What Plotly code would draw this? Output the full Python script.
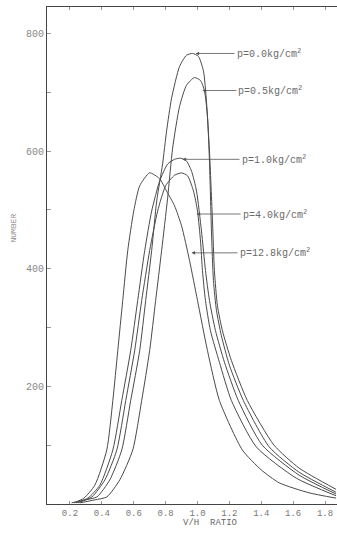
import plotly.graph_objects as go

# ---- data ----
x_p00 = [0.21, 0.294, 0.369, 0.45, 0.525, 0.581, 0.6375, 0.675, 0.7125, 0.744, 0.781, 0.806, 0.8375, 0.8875,
         0.931, 0.969, 1.006, 1.0375, 1.056, 1.075, 1.094, 1.106, 1.125, 1.156, 1.2125, 1.3125, 1.48, 1.6375, 1.869]
y_p00 = [2, 7, 12, 41, 92, 176, 261, 346, 431, 515, 578, 634, 690, 744,
         763, 766, 761, 736, 685, 600, 481, 397, 337, 295, 244, 176, 100, 61, 25]

x_p05 = [0.2625, 0.356, 0.431, 0.5125, 0.594, 0.65, 0.7, 0.7375, 0.775, 0.8125, 0.844, 0.8875, 0.931, 0.981,
         1.019, 1.044, 1.0625, 1.075, 1.0875, 1.1, 1.119, 1.15, 1.2, 1.2875, 1.45, 1.6375, 1.869]
y_p05 = [2, 7, 12, 41, 92, 176, 261, 346, 431, 520, 605, 676, 712, 725,
         720, 702, 659, 583, 464, 380, 329, 286, 236, 176, 97, 54, 20]

x_p10 = [0.2375, 0.3125, 0.3875, 0.469, 0.525, 0.581, 0.625, 0.669, 0.7125, 0.7625, 0.8125, 0.856, 0.894,
         0.931, 0.9625, 0.994, 1.025, 1.05, 1.075, 1.1125, 1.169, 1.256, 1.406, 1.6375, 1.869]
y_p10 = [2, 10, 32, 92, 176, 261, 346, 431, 498, 549, 578, 586, 588,
         583, 566, 532, 464, 397, 346, 295, 241, 176, 100, 49, 17]

x_p40 = [0.25, 0.3375, 0.419, 0.494, 0.55, 0.606, 0.65, 0.7, 0.75, 0.8, 0.856, 0.9, 0.9375,
         0.975, 1.0, 1.019, 1.031, 1.05, 1.081, 1.1375, 1.2125, 1.369, 1.619, 1.869]
y_p40 = [2, 12, 41, 92, 176, 261, 346, 431, 498, 541, 559, 563, 558,
         532, 498, 447, 397, 346, 295, 241, 176, 97, 44, 14]

x_p128 = [0.225, 0.2875, 0.356, 0.431, 0.469, 0.5, 0.531, 0.5625, 0.6, 0.6375, 0.7, 0.7625, 0.806,
          0.856, 0.9, 0.95, 1.0, 1.0625, 1.1375, 1.281, 1.4, 1.5125, 1.7, 1.869]
y_p128 = [2, 10, 32, 92, 176, 261, 346, 431, 498, 541, 563, 553, 532,
          507, 473, 414, 346, 261, 176, 92, 58, 36, 19, 10]

labels = ["p=0.0kg/cm<sup>2</sup>", "p=0.5kg/cm<sup>2</sup>", "p=1.0kg/cm<sup>2</sup>",
          "p=4.0kg/cm<sup>2</sup>", "p=12.8kg/cm<sup>2</sup>"]
label_head_x = [0.9875, 1.031, 0.906, 0.994, 0.9625]
label_head_y = [766, 703, 586, 493, 427]
label_offset_px = [39, 34, 57, 44, 46]

x_ticks = [0.2, 0.4, 0.6, 0.8, 1.0, 1.2, 1.4, 1.6, 1.8]
x_ticktext = ["0.2", "0.4", "0.6", "0.8", "1.0", "1.2", "1.4", "1.6", "1.8"]
y_ticks = [100, 200, 300, 400, 500, 600, 700, 800]
y_ticktext = ["", "200", "", "400", "", "600", "", "800"]

series = [(x_p00, y_p00), (x_p05, y_p05), (x_p10, y_p10), (x_p40, y_p40), (x_p128, y_p128)]

FONT = "Liberation Mono, Courier New, monospace"
LINE = "#4a4a4a"

fig = go.Figure()
for (xs, ys), name in zip(series, labels):
    fig.add_trace(go.Scatter(x=xs, y=ys, mode="lines", name=name,
                             line=dict(color=LINE, width=1, shape="spline", smoothing=0.6),
                             showlegend=False, hoverinfo="skip"))

for txt, hx, hy, off in zip(labels, label_head_x, label_head_y, label_offset_px):
    fig.add_annotation(x=hx, y=hy, xref="x", yref="y", text=txt, showarrow=True,
                       ax=off, ay=0, xanchor="left", yanchor="middle",
                       arrowhead=2, arrowsize=0.9, arrowwidth=0.8, arrowcolor="#555",
                       standoff=0, font=dict(family=FONT, size=10, color="#6a6a6a"))

# axis titles
fig.add_annotation(x=0.562, y=-0.038, xref="paper", yref="paper", yanchor="middle",
                   text="V/H  RATIO", showarrow=False,
                   font=dict(family=FONT, size=9, color="#666"))
fig.add_annotation(x=-0.114, y=0.556, xref="paper", yref="paper", xanchor="center", yanchor="middle",
                   text="NUMBER", textangle=-90, showarrow=False,
                   font=dict(family=FONT, size=8, color="#888"))

fig.update_layout(
    width=337, height=536,
    margin=dict(l=47, r=0, t=7, b=32),
    paper_bgcolor="white", plot_bgcolor="white",
    font=dict(family=FONT, size=9, color="#777"),
    xaxis=dict(range=[0.056, 1.875], tickvals=x_ticks, ticktext=x_ticktext,
               showgrid=False, zeroline=False, showline=True, linecolor="#444", linewidth=1,
               mirror="ticks", ticks="inside", ticklen=3, tickcolor="#999", automargin=False,
               ticklabeloverflow="allow",
               tickfont=dict(family=FONT, size=9, color="#777")),
    yaxis=dict(range=[0, 845], tickvals=y_ticks, ticktext=y_ticktext,
               showgrid=False, zeroline=False, showline=True, linecolor="#444", linewidth=1,
               ticks="inside", ticklen=4, tickcolor="#999", automargin=False,
               tickfont=dict(family=FONT, size=10, color="#888")),
)

fig.write_html("out.html",
               config={"displayModeBar": False, "staticPlot": True},
               post_script="document.body.style.margin='0';"
                           "document.documentElement.style.overflow='hidden';")
